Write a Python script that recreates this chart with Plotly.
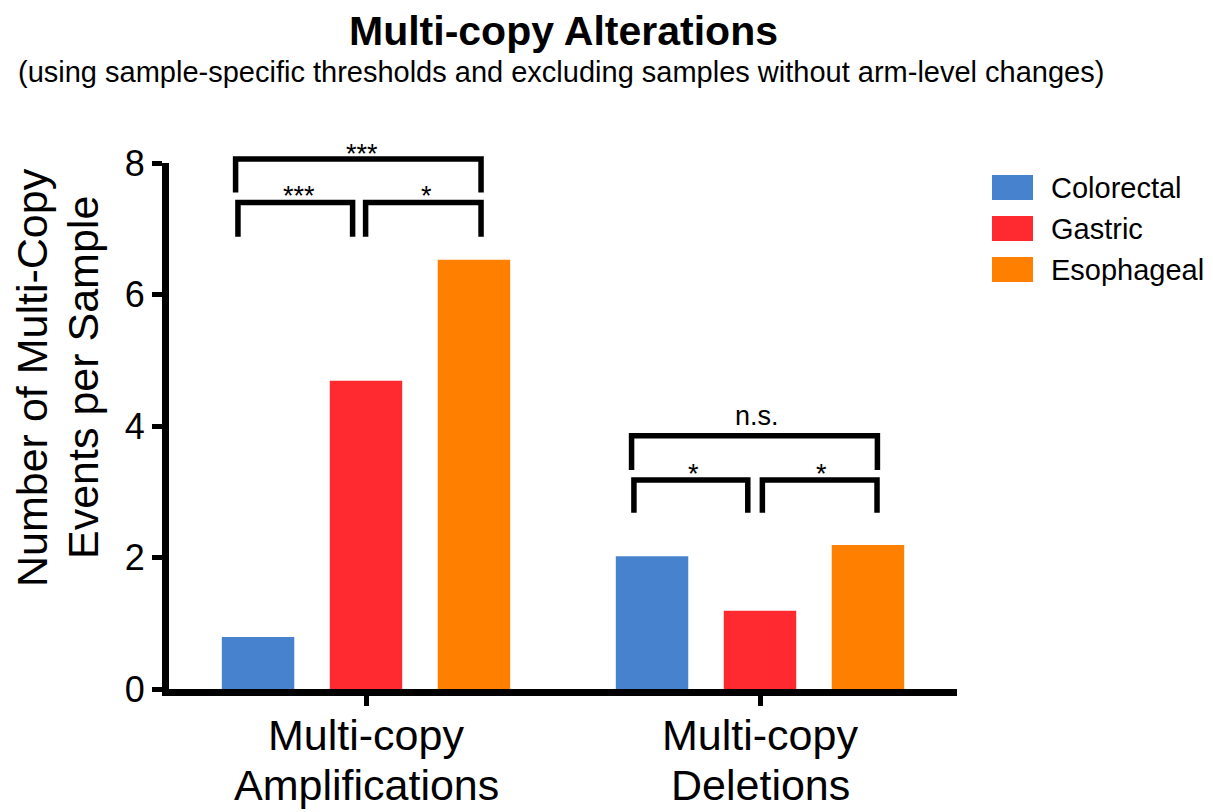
import plotly.graph_objects as go

# ---------------- data ----------------
categories = ["Multi-copy Amplifications", "Multi-copy Deletions"]
category_lines = [["Multi-copy", "Amplifications"], ["Multi-copy", "Deletions"]]
series_names = ["Colorectal", "Gastric", "Esophageal"]
colorectal = [0.79, 2.02]
gastric = [4.69, 1.19]
esophageal = [6.53, 2.19]
y_ticks = [0, 2, 4, 6, 8]

# significance brackets: (category-x left, category-x right, top level, leg level, label)
brackets = [
    (-0.331, 0.292, 8.06, 7.55, "***"),
    (-0.325, -0.034, 7.40, 6.88, "***"),
    (-0.001, 0.292, 7.40, 6.88, "*"),
    (0.674, 1.298, 3.85, 3.33, "n.s."),
    (0.680, 0.969, 3.18, 2.68, "*"),
    (1.006, 1.297, 3.18, 2.68, "*"),
]
# label anchor positions (category-x, value)
bracket_label_pos = [
    (-0.011, 8.14), (-0.170, 7.50), (0.154, 7.50),
    (0.992, 4.15), (0.832, 3.27), (1.157, 3.27),
]

colors = ["#4682CD", "#FF2A2F", "#FF8000"]
FONT = "Liberation Sans, Arial, sans-serif"

# ---------------- layout geometry ----------------
# page body has an 8px margin; plot area sits at window px x 169..957, y 163..689
OFF = 8
W, H = 1213 - OFF, 812 - OFF
PLOT_X0, PLOT_X1, PLOT_Y0, PLOT_Y1 = 169, 957, 163, 689
L = PLOT_X0 - OFF
T = PLOT_Y0 - OFF
R = 1213 - PLOT_X1
B = 812 - PLOT_Y1
PW, PH = PLOT_X1 - PLOT_X0, PLOT_Y1 - PLOT_Y0
X_RANGE = [-0.5, 1.5]
Y_RANGE = [0, 8]


def px_x(px):
    return (px - PLOT_X0) / PW


def px_y(py):
    return (PLOT_Y1 - py) / PH


def cx(c):
    return (c - X_RANGE[0]) / (X_RANGE[1] - X_RANGE[0])


def vy(v):
    return (v - Y_RANGE[0]) / (Y_RANGE[1] - Y_RANGE[0])


fig = go.Figure()
for name, vals, col in zip(series_names, [colorectal, gastric, esophageal], colors):
    fig.add_trace(go.Bar(x=categories, y=vals, name=name, marker=dict(color=col, line=dict(width=0)),
                         showlegend=False))

shapes = []
annotations = []

# brackets
for (x0, x1, ytop, yleg, lab), (lx, ly) in zip(brackets, bracket_label_pos):
    path = f"M {cx(x0)},{vy(yleg)} L {cx(x0)},{vy(ytop)} L {cx(x1)},{vy(ytop)} L {cx(x1)},{vy(yleg)}"
    shapes.append(dict(type="path", path=path, xref="paper", yref="paper",
                       line=dict(color="black", width=5.5)))
    annotations.append(dict(x=cx(lx), y=vy(ly), xref="paper", yref="paper", text=lab,
                            showarrow=False, xanchor="center", yanchor="middle",
                            font=dict(family=FONT, size=27, color="black")))

# category labels (two lines each, tighter line spacing than plotly's default)
for cat, lines in zip(categories, category_lines):
    for line, yc in zip(lines, [735, 785]):
        annotations.append(dict(x=cat, xref="x", y=px_y(yc), yref="paper", text=line,
                                showarrow=False, xanchor="center", yanchor="middle",
                                font=dict(family=FONT, size=43, color="black")))

# manual legend
leg_rows = [187.5, 228.5, 269.5]
for name, col, yc in zip(series_names, colors, leg_rows):
    shapes.append(dict(type="rect", xref="paper", yref="paper",
                       x0=px_x(992), x1=px_x(1033), y0=px_y(yc + 12.5), y1=px_y(yc - 12.5),
                       fillcolor=col, line=dict(width=0)))
    annotations.append(dict(x=px_x(1049), y=px_y(yc), xref="paper", yref="paper", text=name,
                            showarrow=False, xanchor="left", yanchor="middle",
                            font=dict(family=FONT, size=29, color="black")))

# title & subtitle
annotations.append(dict(x=px_x(563), y=px_y(31), xref="paper", yref="paper",
                        text="<b>Multi-copy Alterations</b>", showarrow=False,
                        xanchor="center", yanchor="middle",
                        font=dict(family=FONT, size=41, color="black")))
annotations.append(dict(x=px_x(561), y=px_y(72), xref="paper", yref="paper",
                        text="(using sample-specific thresholds and excluding samples without arm-level changes)",
                        showarrow=False, xanchor="center", yanchor="middle",
                        font=dict(family=FONT, size=29, color="black")))

# y-axis title (two lines)
for txt, xc in [("Number of Multi-Copy", 32), ("Events per Sample", 83)]:
    annotations.append(dict(x=px_x(xc), y=px_y(378), xref="paper", yref="paper", text=txt,
                            showarrow=False, textangle=-90, xanchor="center", yanchor="middle",
                            font=dict(family=FONT, size=43, color="black")))

fig.update_layout(
    width=W, height=H, autosize=False,
    margin=dict(l=L, r=R, t=T, b=B, pad=0, autoexpand=False),
    paper_bgcolor="white", plot_bgcolor="white",
    barmode="group", bargap=0.178, bargroupgap=0.329,
    shapes=shapes, annotations=annotations,
    font=dict(family=FONT, color="black"),
    showlegend=False,
)
fig.update_xaxes(range=X_RANGE, showgrid=False, zeroline=False, automargin=False,
                 showline=True, linewidth=7, linecolor="black", showticklabels=False,
                 ticks="outside", ticklen=10, tickwidth=5, tickcolor="black")
fig.update_yaxes(range=Y_RANGE, tickvals=y_ticks, showgrid=False, zeroline=False, automargin=False,
                 showline=True, linewidth=7, linecolor="black",
                 ticks="outside", ticklen=10, tickwidth=5, tickcolor="black",
                 tickfont=dict(family=FONT, size=36, color="black"))

fig.write_html("out.html")
